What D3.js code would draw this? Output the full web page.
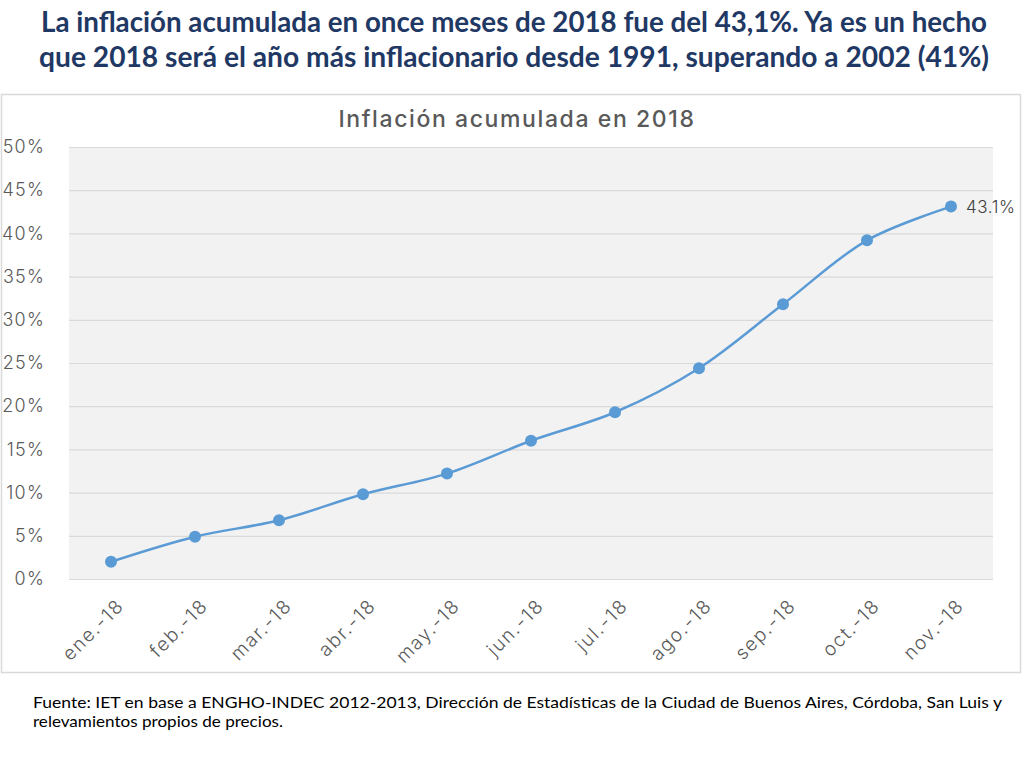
<!DOCTYPE html>
<html>
<head>
<meta charset="utf-8">
<script src="https://cdn.jsdelivr.net/npm/d3@7"></script>
<style>
  body { margin: 0; background: #fff; }
  svg { display: block; }
</style>
</head>
<body>
<div id="chart"></div>
<script>
// Data
const months = ["ene.-18", "feb.-18", "mar.-18", "abr.-18", "may.-18", "jun.-18",
  "jul.-18", "ago.-18", "sep.-18", "oct.-18", "nov.-18"];
const inflation = [2.0, 4.9, 6.8, 9.8, 12.2, 16.0, 19.3, 24.4, 31.8, 39.2, 43.1];
const yTicks = [0, 5, 10, 15, 20, 25, 30, 35, 40, 45, 50];

const titleLines = [
  "La inflación acumulada en once meses de 2018 fue del 43,1%. Ya es un hecho",
  "que 2018 será el año más inflacionario desde 1991, superando a 2002 (41%)"
];
const chartTitle = "Inflación acumulada en 2018";
const sourceLines = [
  "Fuente: IET en base a ENGHO-INDEC 2012-2013, Dirección de Estadísticas de la Ciudad de Buenos Aires, Córdoba, San Luis y",
  "relevamientos propios de precios."
];

const data = months.map((m, i) => ({ month: m, value: inflation[i] }));

const W = 1024, H = 768;
const svg = d3.select("#chart").append("svg")
  .attr("width", W)
  .attr("height", H);

// Slide title (condensed look, like the original)
svg.selectAll("text.title")
  .data(titleLines)
  .join("text")
  .attr("class", "title")
  .attr("x", 514)
  .attr("y", (d, i) => 32 + i * 35)
  .attr("text-anchor", "middle")
  .attr("textLength", (d, i) => i === 0 ? 946 : 950)
  .attr("lengthAdjust", "spacingAndGlyphs")
  .style("font-family", "Lato, 'Open Sans', sans-serif")
  .style("font-weight", "bold")
  .style("font-size", "28px")
  .style("fill", "#1f3864")
  .text(d => d);

// Chart frame
svg.append("rect")
  .attr("x", 1.5)
  .attr("y", 94.5)
  .attr("width", 1019)
  .attr("height", 578)
  .attr("fill", "#fff")
  .attr("stroke", "#d9d9d9")
  .attr("stroke-width", 1.5);

const margin = { top: 147, left: 69, right: 31, bottom: 189 };
const width = W - margin.left - margin.right;
const height = H - margin.top - margin.bottom;

const g = svg.append("g")
  .attr("transform", `translate(${margin.left},${margin.top})`);

const x = d3.scaleBand()
  .domain(months)
  .range([0, width]);

const y = d3.scaleLinear()
  .domain([0, 50])
  .range([height, 0]);

// Plot background
g.append("rect")
  .attr("width", width)
  .attr("height", height)
  .attr("fill", "#f2f2f2");

// Gridlines
g.append("g")
  .call(d3.axisLeft(y).tickValues(yTicks).tickSize(-width).tickFormat(""))
  .call(a => a.select(".domain").remove())
  .call(a => a.selectAll("line").attr("stroke", "#d9d9d9").attr("stroke-width", 1.2));

// Y axis labels
g.append("g")
  .call(d3.axisLeft(y).tickValues(yTicks).tickSize(0).tickPadding(24).tickFormat(d => d + "%"))
  .call(a => a.select(".domain").remove())
  .call(a => a.selectAll("text")
    .style("font-family", "Inter, 'DejaVu Sans', sans-serif")
    .style("font-weight", "300")
    .style("font-size", "18px")
    .style("letter-spacing", "1.2px")
    .style("fill", "#595959"));

// X axis labels (rotated)
g.append("g")
  .attr("transform", `translate(0,${height})`)
  .call(d3.axisBottom(x).tickSize(0).tickPadding(0))
  .call(a => a.select(".domain").remove())
  .call(a => a.selectAll("text")
    .attr("text-anchor", "end")
    .attr("dy", "0")
    .attr("y", 0)
    .attr("transform", "translate(14,28) rotate(-45)")
    .style("font-family", "Inter, 'DejaVu Sans', sans-serif")
    .style("font-weight", "300")
    .style("font-size", "19px")
    .style("letter-spacing", "1.6px")
    .style("fill", "#595959"));

// Chart title
svg.append("text")
  .attr("x", 517)
  .attr("y", 127)
  .attr("text-anchor", "middle")
  .style("font-family", "Inter, 'DejaVu Sans', sans-serif")
  .style("font-weight", "500")
  .style("font-size", "23px")
  .style("letter-spacing", "1.6px")
  .style("fill", "#595959")
  .text(chartTitle);

// Line
const line = d3.line()
  .x(d => x(d.month) + x.bandwidth() / 2)
  .y(d => y(d.value))
  .curve(d3.curveCatmullRom.alpha(0.5));

g.append("path")
  .datum(data)
  .attr("fill", "none")
  .attr("stroke", "#5b9bd5")
  .attr("stroke-width", 2.5)
  .attr("d", line);

// Markers
g.selectAll("circle")
  .data(data)
  .join("circle")
  .attr("cx", d => x(d.month) + x.bandwidth() / 2)
  .attr("cy", d => y(d.value))
  .attr("r", 6)
  .attr("fill", "#5b9bd5");

// Last value label
const last = data[data.length - 1];
g.append("text")
  .attr("x", x(last.month) + x.bandwidth() / 2 + 15)
  .attr("y", y(last.value))
  .attr("dy", "0.35em")
  .style("font-family", "Inter, 'DejaVu Sans', sans-serif")
  .style("font-weight", "300")
  .style("font-size", "17px")
  .style("letter-spacing", "0.6px")
  .style("fill", "#404040")
  .text(d3.format(".1f")(last.value) + "%");

// Source note
svg.selectAll("text.source")
  .data(sourceLines)
  .join("text")
  .attr("class", "source")
  .attr("x", 33)
  .attr("y", (d, i) => 708 + i * 19)
  .attr("textLength", (d, i) => i === 0 ? 969 : 250)
  .attr("lengthAdjust", "spacingAndGlyphs")
  .style("font-family", "Lato, 'Open Sans', sans-serif")
  .style("font-size", "16px")
  .style("fill", "#000")
  .text(d => d);
</script>
</body>
</html>
